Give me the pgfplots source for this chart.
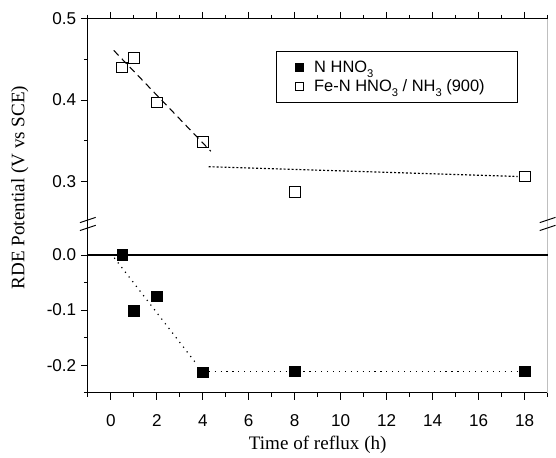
\documentclass[border=0pt]{standalone}
\usepackage{fontspec}
\setmainfont{Liberation Sans}
\newfontfamily\seriffont{Liberation Serif}
\usepackage{pgfplots}
\pgfplotsset{compat=1.18}

\newcommand\sub[1]{\raisebox{-0.55ex}{\fontsize{8.5}{9}\selectfont #1}}

\pgfplotsset{
  brk/.style={
    width=349.5pt, scale only axis, xmin=-1, xmax=19,
    axis line style={draw=none}, clip=false,
    tick align=outside, major tick length=5.25pt, minor tick length=3pt,
    every tick/.style={black, line width=0.75pt},
    xtick={0,2,...,18}, minor xtick={-1,1,...,19},
    ytick pos=left,
    ticklabel style={font=\fontsize{13}{15}\selectfont},
  },
}
\tikzset{brkmark/.style={line width=0.75pt}}

\begin{document}
\begin{tikzpicture}[x=1pt,y=1pt]
\path (-66.75,-46.5) rectangle (350.25,298.5);

% lower part
\begin{axis}[brk, at={(0,0)}, anchor=south west, height=129.75pt,
  ymin=-0.25, ymax=0.06,
  ytick={-0.2,-0.1,0}, yticklabels={-0.2,-0.1,0.0},
  minor ytick={-0.25,-0.15,-0.05},
  xtick pos=left, xticklabels={0,2,4,6,8,10,12,14,16,18},
  xticklabel style={yshift=-8pt},
  xlabel={Time of reflux (h)},
  xlabel style={font=\seriffont\fontsize{14.5}{16}\selectfont,
    at={(axis description cs:0.5,0)}, anchor=center, yshift=-39.5pt},
  ylabel={RDE Potential (V vs SCE)},
  ylabel style={font=\seriffont\fontsize{14.5}{16}\selectfont,
    at={(axis description cs:-0.148,1.202)}, anchor=center},
]
\draw[line width=0.75pt] (rel axis cs:0,1) -- (rel axis cs:0,0) -- (rel axis cs:1,0);
\draw[gray!50, line width=0.5pt] (rel axis cs:1,0) -- (rel axis cs:1,1);
\addplot[black, line width=0.9pt] coordinates {(-1,0) (19,0)};
\addplot[black, line width=0.9pt, dash pattern=on 0.9pt off 3.6pt] coordinates {(0.15,-0.005) (3.75,-0.199)};
\addplot[black, line width=0.9pt, dash pattern=on 0.9pt off 3.6pt] coordinates {(4,-0.212) (18,-0.212)};
\addplot[only marks, mark=square*, mark size=4.1pt] coordinates {
  (0.5,0.0) (1,-0.101) (2,-0.075) (4,-0.213) (8,-0.211) (18,-0.211)};
\end{axis}

% upper part
\begin{axis}[brk, at={(0,129.75pt)}, anchor=south west, height=154.5pt,
  ymin=0.25, ymax=0.5,
  ytick={0.3,0.4,0.5}, yticklabels={0.3,0.4,0.5},
  minor ytick={0.35,0.45},
  xtick pos=right, xticklabels={},
  legend style={at={(0.9356,0.840)}, anchor=north east, draw=black,
    line width=0.6pt, font=\fontsize{12.5}{14}\selectfont,
    inner xsep=15pt, inner ysep=5pt, column sep=6pt, row sep=0pt},
  legend cell align=left,
]
\draw[line width=0.75pt] (rel axis cs:0,0) -- (rel axis cs:0,1) -- (rel axis cs:1,1);
\draw[gray!50, line width=0.5pt] (rel axis cs:1,0) -- (rel axis cs:1,1);
\addlegendimage{only marks, mark=square*, mark size=3pt}
\addlegendentry{N HNO\sub{3}}
\addlegendimage{only marks, mark=square, mark size=3pt, mark options={line width=0.6pt}}
\addlegendentry{Fe-N HNO\sub{3} / NH\sub{3} (900)\hspace*{8pt}}
\addplot[black, line width=0.8pt, dash pattern=on 5.25pt off 3.5pt, forget plot] coordinates {(0.13,0.461) (4.35,0.337)};
\addplot[black, line width=0.9pt, dash pattern=on 1.5pt off 1.5pt, forget plot] coordinates {(4.26,0.318) (17.7,0.306)};
\addplot[only marks, mark=square, mark size=4.1pt, mark options={fill=white, line width=0.7pt}, forget plot] coordinates {
  (0.5,0.440) (1,0.452) (2,0.397) (4,0.348) (8,0.287) (18,0.306)};
% axis break marks
\draw[brkmark] ([shift={(-6pt,-0.5pt)}]rel axis cs:0,0) -- ++(12pt,4pt);
\draw[brkmark] ([shift={(-6pt,-6.5pt)}]rel axis cs:0,0) -- ++(12pt,4pt);
\draw[brkmark] ([shift={(-6pt,-0.5pt)}]rel axis cs:1,0) -- ++(12pt,4pt);
\draw[brkmark] ([shift={(-6pt,-6.5pt)}]rel axis cs:1,0) -- ++(12pt,4pt);
\end{axis}
\end{tikzpicture}
\end{document}
